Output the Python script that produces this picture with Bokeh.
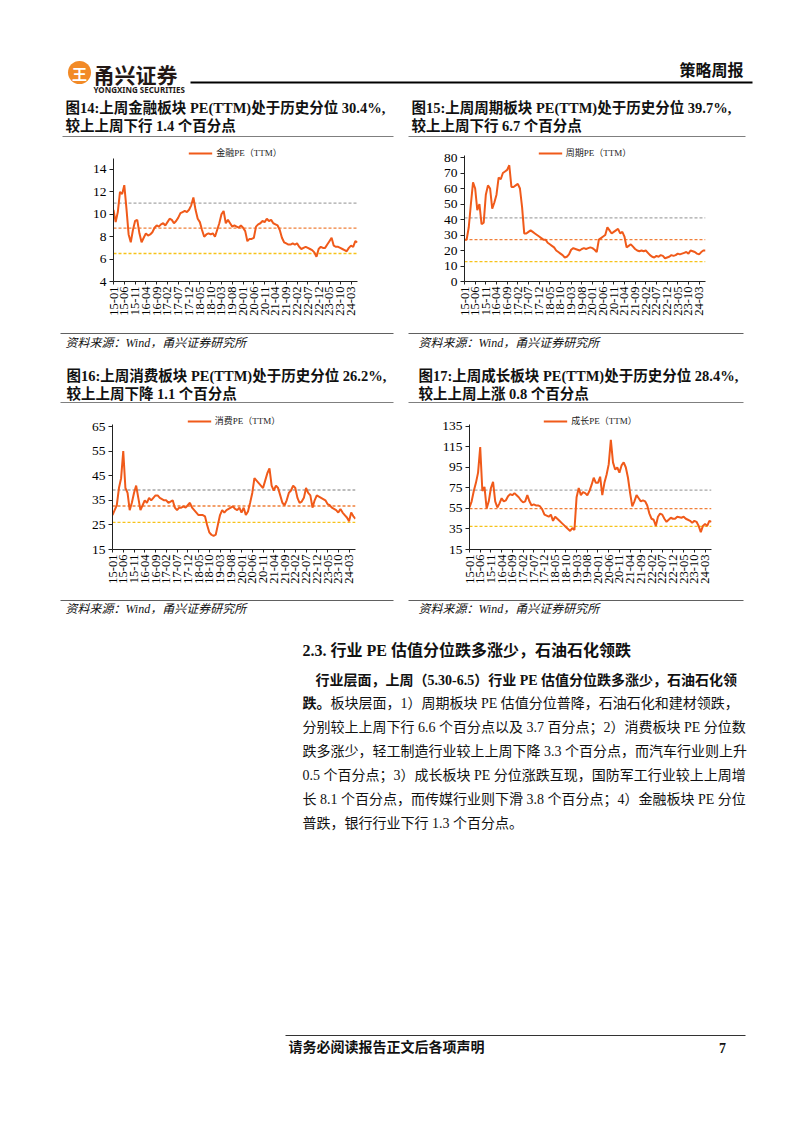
import math
from bokeh.plotting import figure
from bokeh.layouts import column, row
from bokeh.models import Range1d, FixedTicker, Span, Legend, LegendItem
from bokeh.core.properties import value
from bokeh.embed import file_html
from bokeh.resources import INLINE

# ---------------- data ----------------
tick_labels = ["15-01", "15-06", "15-11", "16-04", "16-09", "17-02", "17-07", "17-12",
               "18-05", "18-10", "19-03", "19-08", "20-01", "20-06", "20-11", "21-04",
               "21-09", "22-02", "22-07", "22-12", "23-05", "23-10", "24-03"]

fin_pe = [10.4, 9.3, 10.2, 12.0, 11.8, 12.6, 10.5, 8.2, 7.5, 8.6, 9.4, 9.5,
          8.3, 7.5, 7.9, 8.3, 8.1, 8.2, 8.4, 8.8, 9.0, 8.9, 9.1, 9.2,
          9.0, 9.3, 9.6, 9.5, 9.2, 9.4, 9.7, 10.1, 10.2, 10.3, 10.2, 10.4,
          10.8, 11.5, 10.4, 9.6, 9.3, 8.6, 8.0, 8.2, 8.3, 8.2, 8.3, 8.0,
          8.6, 9.2, 10.0, 10.3, 9.2, 9.5, 9.2, 8.9, 9.0, 8.9, 8.8, 9.0,
          8.8, 8.5, 7.6, 7.8, 7.8, 7.9, 8.9, 9.1, 9.2, 9.4, 9.3, 9.6,
          9.4, 9.5, 9.2, 9.1, 9.0, 8.6, 7.9, 7.5, 7.4, 7.3, 7.3, 7.4,
          7.3, 7.4, 7.1, 6.9, 7.0, 7.1, 7.0, 6.9, 6.8, 6.6, 6.2, 6.9,
          7.1, 7.0, 7.0, 7.3, 7.6, 7.9, 7.2, 7.1, 7.1, 7.0, 6.9, 6.8,
          6.7, 7.0, 7.2, 7.1, 7.6, 7.5]

cyc_pe = [27, 27, 35, 50, 64, 60, 46, 50, 37, 38, 56, 62,
          60, 47, 51, 56, 67, 66, 70, 71, 72, 75, 61, 61,
          62, 63, 60, 48, 31, 31, 32, 33, 32, 31, 30, 29,
          28, 27, 27, 25, 24, 23, 22, 20, 19, 18, 17, 15.5,
          16, 17.5, 20.5, 21.5, 21, 20.5, 20, 21, 21.5, 21, 21.5, 22,
          21.5, 20.5, 19, 27, 28, 29, 30, 35, 33, 31, 32, 33,
          34, 31, 32, 29, 22, 23, 24, 22.5, 21, 20, 19.5, 20,
          19.5, 20, 18.5, 17, 16, 15.5, 16.5, 16, 17, 16.5, 15, 15.5,
          16, 17, 16.5, 17, 18, 17.5, 18, 18.5, 19, 18, 20, 19.5,
          19, 18, 17.5, 19, 20, 20]

cons_pe = [29, 31, 33, 40, 44, 55, 40, 38, 31, 34, 38, 41,
           36, 31, 33, 35, 34, 36, 35, 36, 37, 37, 36, 35.5,
           35, 35, 34, 34.5, 35, 32, 31, 32, 32, 32.5, 32, 33,
           34, 32, 31, 30, 29, 29, 29, 28.5, 25, 22, 21, 20.5,
           21, 25, 29, 31, 30, 31, 31.5, 32, 32.5, 31.5, 31, 32,
           30, 32, 29, 30.5, 34, 38, 44, 43, 42, 41, 40, 43,
           46, 48, 41, 39, 41, 40, 37, 34, 33, 35, 38, 39,
           41, 40, 36, 34, 34.5, 36, 40, 38, 37, 32, 35, 37,
           36.5, 36, 35.5, 35, 33.5, 33, 32, 31.5, 31, 30, 31.5, 30,
           29, 28, 26.5, 30, 28.5, 27.5]

grow_pe = [56, 62, 72, 80, 90, 115, 72, 76, 55, 62, 75, 81,
           62, 56, 60, 65, 62, 63, 67, 69, 68, 70, 68, 66,
           63, 61, 62, 68, 62, 58, 59, 58, 58, 57, 54, 49,
           48, 47, 49, 43, 47, 45, 43, 41, 39, 37, 35, 33,
           36, 34, 66, 75, 68, 71, 70, 68, 72, 78, 85, 80,
           80, 86, 68, 80, 88, 98, 122, 100, 93, 95, 90, 97,
           100, 95, 85, 70, 57, 62, 68, 65, 62, 63, 62, 58,
           50, 45, 44, 38, 47, 50, 49, 45, 42, 44, 46, 45,
           45, 47, 46.5, 46, 47, 45, 44, 43, 41, 43, 42, 38,
           32, 38, 40, 38, 43, 42]

# +1std, mean, -1std reference levels
fin_levels = [11.0, 8.76, 6.5]
cyc_levels = [41.1, 27.0, 12.8]
cons_levels = [39.2, 32.7, 26.0]
grow_levels = [73.0, 54.8, 37.5]

fin_yticks = [4, 6, 8, 10, 12, 14]
cyc_yticks = [0, 10, 20, 30, 40, 50, 60, 70, 80]
cons_yticks = [15, 25, 35, 45, 55, 65]
grow_yticks = [15, 35, 55, 75, 95, 115, 135]

# ---------------- style ----------------
LINE = "#F05A1A"
LEVEL_COLORS = ["#A6A6A6", "#F0803A", "#F7C21A"]
SERIF = "Liberation Serif, Noto Sans CJK SC"
CJK = "Noto Sans CJK SC"
INK = "#111111"
PAGE_W = 802
TITLE = 14.5


def band(top, h):
    p = figure(width=PAGE_W, height=h, x_range=Range1d(0, PAGE_W), y_range=Range1d(top + h, top),
               output_backend="svg", toolbar_location=None, min_border=0,
               x_axis_location=None, y_axis_location=None)
    p.grid.visible = False
    p.outline_line_color = None
    return p


def txt(p, x, y, s, size, style="normal", font=SERIF, align="left", color=INK):
    p.text(x=[x], y=[y], text=[s], text_font=value(font), text_font_size=f"{size}px",
           text_font_style=style, text_align=align, text_baseline="middle", text_color=color)


def rule(p, x0, x1, y, color="#7F7F7F", w=1.0):
    p.segment(x0=[x0], y0=[y], x1=[x1], y1=[y], line_color=color, line_width=w)


def chart(vals, name, ylo, yhi, axis_top, yticks, levels, width, ml, mr, mt, mb):
    xs = list(range(len(vals)))
    p = figure(width=width, height=188, x_range=Range1d(xs[0], xs[-1]), y_range=Range1d(ylo, yhi),
               output_backend="svg", toolbar_location=None,
               min_border_left=ml, min_border_right=mr, min_border_top=mt, min_border_bottom=mb)
    p.grid.visible = False
    p.outline_line_color = None
    for v, c in zip(levels, LEVEL_COLORS):
        p.add_layout(Span(location=v, dimension="width", line_color=c, line_dash="3 2",
                          line_width=1.3, level="underlay"))
    r = p.line(xs, vals, line_color=LINE, line_width=2)

    ya = p.yaxis[0]
    ya.bounds = (ylo, axis_top)
    ya.ticker = FixedTicker(ticks=yticks)
    ya.minor_tick_line_color = None
    ya.major_tick_out = 4
    ya.major_tick_in = 0
    ya.axis_line_color = "#222222"
    ya.major_tick_line_color = "#222222"
    ya.major_label_text_font = "Liberation Serif"
    ya.major_label_text_font_size = "13.5px"
    ya.major_label_text_color = "#000000"
    ya.major_label_standoff = 3

    xa = p.xaxis[0]
    tick_pos = [5 * i for i in range(len(tick_labels))]
    xa.ticker = FixedTicker(ticks=tick_pos)
    xa.major_label_overrides = {t: lab for t, lab in zip(tick_pos, tick_labels)}
    xa.major_label_orientation = math.pi / 2
    xa.minor_tick_line_color = None
    xa.major_tick_out = 3
    xa.major_tick_in = 0
    xa.axis_line_color = "#222222"
    xa.major_tick_line_color = "#222222"
    xa.major_label_text_font = "Liberation Serif"
    xa.major_label_text_font_size = "12.5px"
    xa.major_label_text_color = "#000000"
    xa.major_label_standoff = 2

    lg = Legend(items=[LegendItem(label=name, renderers=[r])], orientation="horizontal",
                location="top_center", border_line_color=None, background_fill_alpha=0,
                label_text_font=SERIF, label_text_font_size="9px", label_text_color="#222222",
                glyph_width=24, glyph_height=10, label_height=10, label_standoff=4,
                padding=0, margin=0, spacing=0)
    p.add_layout(lg)
    return p


# ---------------- band A: header + first titles (page y 0..142) ----------------
A = band(0, 142)
A.circle(x=[79], y=[72], radius=11.5, fill_color="#F28A26", line_color=None)
txt(A, 79, 72.5, "王", 15, "bold", CJK, "center", "#FFFFFF")
txt(A, 93, 73, "甬兴证券", 21, "bold", CJK, color="#231815")
txt(A, 93, 88.5, "YONGXING SECURITIES", 8, "bold", "Noto Sans", color="#231815")
rule(A, 190, 752, 82, "#000000", 2)
txt(A, 743, 68, "策略周报", 16, "bold", CJK, "right")
txt(A, 65, 107, "图14:上周金融板块 PE(TTM)处于历史分位 30.4%,", TITLE, "bold")
txt(A, 65, 125, "较上上周下行 1.4 个百分点", TITLE, "bold")
txt(A, 411, 107, "图15:上周周期板块 PE(TTM)处于历史分位 39.7%,", TITLE, "bold")
txt(A, 411, 125, "较上上周下行 6.7 个百分点", TITLE, "bold")
rule(A, 62, 393, 136)
rule(A, 408, 745, 136)

# ---------------- band B: charts 1 & 2 (page y 142..330) ----------------
c1 = chart(fin_pe, "金融PE（TTM）", 4, 16.05, 15.0, fin_yticks, fin_levels, 400, 113, 43, 4, 49)
c2 = chart(cyc_pe, "周期PE（TTM）", 0, 87.1, 81.3, cyc_yticks, cyc_levels, 402, 64, 97, 4, 49)

# ---------------- band C (page y 330..410) ----------------
C = band(330, 80)
rule(C, 60, 393, 333, "#606060")
rule(C, 408, 743, 333, "#606060")
txt(C, 65, 342, "资料来源：Wind，甬兴证券研究所", 12, "italic")
txt(C, 418, 342, "资料来源：Wind，甬兴证券研究所", 12, "italic")
txt(C, 66, 375, "图16:上周消费板块 PE(TTM)处于历史分位 26.2%,", TITLE, "bold")
txt(C, 66, 393, "较上上周下降 1.1 个百分点", TITLE, "bold")
txt(C, 418, 375, "图17:上周成长板块 PE(TTM)处于历史分位 28.4%,", TITLE, "bold")
txt(C, 418, 393, "较上上周上涨 0.8 个百分点", TITLE, "bold")
rule(C, 60, 393, 402)
rule(C, 408, 743, 402)

# ---------------- band D: charts 3 & 4 (page y 410..598) ----------------
c3 = chart(cons_pe, "消费PE（TTM）", 15, 69.9, 65.8, cons_yticks, cons_levels, 400, 112, 45, 4, 49)
c4 = chart(grow_pe, "成长PE（TTM）", 15, 146.7, 137, grow_yticks, grow_levels, 402, 69, 91, 4, 49)

# ---------------- band E (page y 598..1130) ----------------
E = band(598, 532)
rule(E, 60, 393, 600, "#606060")
rule(E, 408, 743, 600, "#606060")
txt(E, 65, 608, "资料来源：Wind，甬兴证券研究所", 12, "italic")
txt(E, 418, 608, "资料来源：Wind，甬兴证券研究所", 12, "italic")
txt(E, 302, 650, "2.3. 行业 PE 估值分位跌多涨少，石油石化领跌", 16, "bold")
txt(E, 315, 680, "行业层面，上周（5.30-6.5）行业 PE 估值分位跌多涨少，石油石化领", 14, "bold")
txt(E, 302, 703, "跌。", 14, "bold")
txt(E, 330, 703, "板块层面，1）周期板块 PE 估值分位普降，石油石化和建材领跌，", 14)
txt(E, 302, 727, "分别较上上周下行 6.6 个百分点以及 3.7 百分点；2）消费板块 PE 分位数", 14)
txt(E, 302, 751, "跌多涨少，轻工制造行业较上上周下降 3.3 个百分点，而汽车行业则上升", 14)
txt(E, 302, 775, "0.5 个百分点；3）成长板块 PE 分位涨跌互现，国防军工行业较上上周增", 14)
txt(E, 302, 799, "长 8.1 个百分点，而传媒行业则下滑 3.8 个百分点；4）金融板块 PE 分位", 14)
txt(E, 302, 823, "普跌，银行行业下行 1.3 个百分点。", 14)
rule(E, 285, 745, 1035, "#333333", 1.2)
txt(E, 288, 1047, "请务必阅读报告正文后各项声明", 14, "bold")
txt(E, 722, 1047, "7", 14, "bold", align="center")

layout = column(A, row(c1, c2), C, row(c3, c4), E)

open("out.html", "w").write(file_html(layout, INLINE))
